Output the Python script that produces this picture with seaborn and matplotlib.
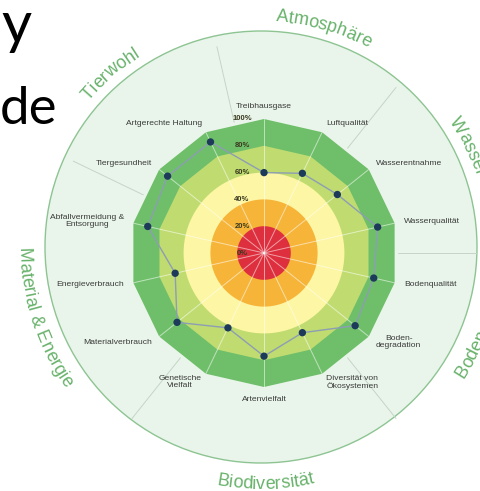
import numpy as np
import pandas as pd
import seaborn as sns
import matplotlib.pyplot as plt
from matplotlib.patches import Circle
from matplotlib.font_manager import FontProperties, findfont, get_font

# indicators clockwise from the top
indicators = ["Treibhausgase", "Luftqualität", "Wasserentnahme", "Wasserqualität",
              "Bodenqualität", "Boden-\ndegradation", "Diversität von\nÖkosystemen",
              "Artenvielfalt", "Genetische\nVielfalt", "Materialverbrauch",
              "Energieverbrauch", "Abfallvermeidung &\nEntsorgung", "Tiergesundheit",
              "Artgerechte Haltung"]
scores = [60, 66, 70, 87, 84, 87, 66, 77, 62, 83, 68, 89, 92, 92]

groups = ["Atmosphäre", "Wasser", "Boden", "Biodiversität", "Material & Energie", "Tierwohl"]
group_sizes = [2, 2, 2, 3, 3, 2]
group_angles = [16, 64, 117, 179, 252, 319]

band_edges = [20, 40, 60, 80, 100]
band_colors = ["#dd2f3d", "#f6b539", "#fdf6a4", "#c0dc70", "#6fbf6a"]
tick_values = [0, 20, 40, 60, 80, 100]

sns.set_theme(style="white")
plt.rcParams['font.family'] = ['Liberation Sans', 'DejaVu Sans']

W, H = 480, 491
fig = plt.figure(figsize=(W / 100, H / 100), dpi=100)

# radar centre and scale in pixels
cx, cy = 264, 253
px_per_unit = 1.34
rmax = 175
rad_px = rmax * px_per_unit
ax = fig.add_axes([(cx - rad_px) / W, (H - cy - rad_px) / H, 2 * rad_px / W, 2 * rad_px / H],
                  projection='polar')
ax.set_theta_zero_location('N')
ax.set_theta_direction(-1)
ax.patch.set_visible(False)
ax.spines['polar'].set_visible(False)

# pale outer disc
ocx, ocy, orad = 261, 247, 216
disc = Circle((ocx / 100, (H - ocy) / 100), orad / 100, transform=fig.dpi_scale_trans,
              fc='#e9f5ea', ec='#8dc492', lw=1.0, zorder=-1)
fig.add_artist(disc)

n = len(indicators)
theta = np.linspace(0, 2 * np.pi, n, endpoint=False)
closed = np.append(theta, theta[0])
circ = np.linspace(0, 2 * np.pi, 361)

# coloured bands, outer first
for edge, col in reversed(list(zip(band_edges, band_colors))):
    if edge >= 80:
        ax.fill(closed, np.full(len(closed), edge), color=col, lw=0, zorder=1)
    else:
        ax.fill(circ, np.full(len(circ), edge), color=col, lw=0, zorder=1)

for t in theta:
    ax.plot([t, t], [0, 100], color='white', lw=0.7, alpha=0.55, zorder=2)

bounds = (np.cumsum(group_sizes) - 0.5) * 2 * np.pi / n
for b in bounds:
    ax.plot([b, b], [100, 158], color='#c6d4c8', lw=0.7, zorder=2)

df = pd.DataFrame({'theta': closed, 'score': scores + scores[:1]})
sns.lineplot(data=df, x='theta', y='score', sort=False, estimator=None,
             color='#8d9db4', lw=1, ax=ax, zorder=3)
sns.scatterplot(data=df.iloc[:-1], x='theta', y='score', color='#1d3a5a', s=28,
                edgecolor='none', ax=ax, zorder=4)

ax.set_ylim(0, rmax)
ax.set_xticks([])
ax.set_yticks([])
ax.grid(False)
ax.set_xlabel('')
ax.set_ylabel('')

for t, lab in zip(theta, indicators):
    s, c = np.sin(t), np.cos(t)
    ha = 'left' if s > 0.1 else ('right' if s < -0.1 else 'center')
    va = 'center' if abs(s) > 0.1 else ('bottom' if c > 0 else 'top')
    ax.text(t, 107, lab, ha=ha, va=va, fontsize=6.1, color='#3a3a3a',
            multialignment='center', linespacing=1.0, zorder=5)

for v in tick_values:
    ax.annotate(f'{v}%', xy=(0, v), xytext=(-22 * 0.72, 0), textcoords='offset points',
                ha='center', va='center', fontsize=5.5, fontweight='bold',
                color='#3a3a20', zorder=5)

# curved group names around the disc
prop = FontProperties(family='Liberation Sans', size=13)
font = get_font(findfont(prop))
font.set_size(13, 72)
hint = plt.rcParams['text.hinting_factor']


def curved(label, phi0, clockwise):
    adv = [font.load_char(ord(ch)).horiAdvance / 64 / hint for ch in label]
    total = sum(adv)
    r = 226 if clockwise else 242
    pos = 0
    for ch, a in zip(label, adv):
        s = (pos + a / 2 - total / 2) * 100 / 72
        pos += a
        dphi = np.degrees(s / r)
        phi = phi0 + dphi if clockwise else phi0 - dphi
        x = ocx + r * np.sin(np.radians(phi))
        y = ocy - r * np.cos(np.radians(phi))
        rot = -phi if clockwise else 180 - phi
        fig.text(x / 100, (H - y) / 100, ch, transform=fig.dpi_scale_trans, rotation=rot,
                 rotation_mode='anchor', ha='center', va='baseline', fontproperties=prop,
                 color='#68b26b')


for g, a in zip(groups, group_angles):
    curved(g, a, clockwise=(a < 90 or a > 270))

# cropped slide title
fig.text(1 / W, 1 - 43 / H, 'y', fontsize=42, family='Lato', va='baseline', color='black')
fig.text(0, 1 - 124 / H, 'de', fontsize=38, family='Lato', va='baseline', color='black')

fig.savefig('out.png', dpi=100)
